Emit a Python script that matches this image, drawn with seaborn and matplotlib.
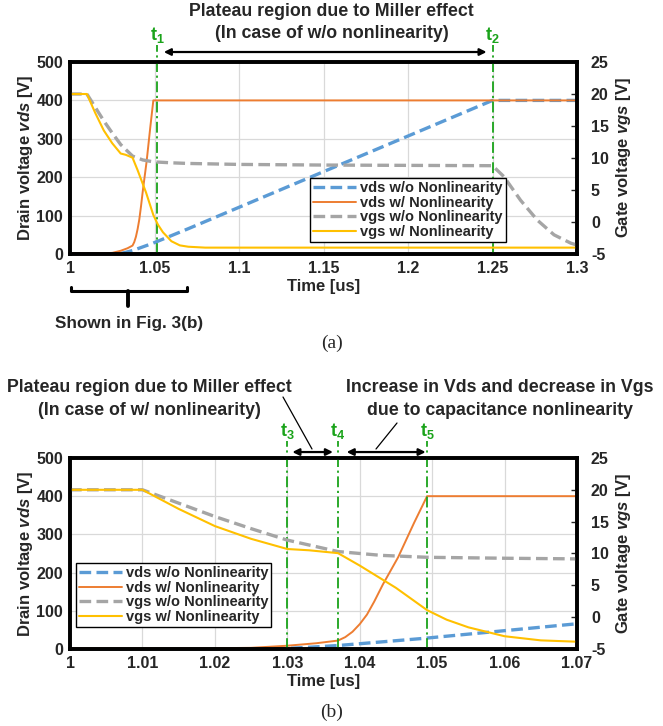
import matplotlib
matplotlib.use("Agg")
import matplotlib.pyplot as plt
import matplotlib.transforms as mtransforms
from matplotlib.lines import Line2D
import seaborn as sns

# values (time in us, voltages in V)
t_vds_wo = [1.0, 1.026, 1.03, 1.033, 1.037, 1.049, 1.07, 1.25, 1.3]
vds_wo = [0, 0, 1.5, 4.5, 9, 28, 66, 400, 400]

t_vds_w = [1.0, 1.02, 1.025, 1.03, 1.034, 1.037, 1.038, 1.039, 1.040, 1.041,
           1.042, 1.0432, 1.0453, 1.0475, 1.0493, 1.3]
vds_w = [2, 2, 3, 8.5, 15, 22, 31, 45, 65, 90, 124, 169, 240, 330, 400, 400]

t_vgs_wo = [1.0, 1.01, 1.015, 1.02, 1.025, 1.03, 1.037, 1.043, 1.0493, 1.06,
            1.07, 1.1, 1.15, 1.25, 1.2567, 1.2666, 1.2765, 1.2864, 1.2963, 1.3]
vgs_wo = [20, 20, 17.9, 15.8, 13.9, 12.1, 10.3, 9.7, 9.4, 9.25,
          9.15, 9.0, 8.9, 8.8, 7.1, 3.4, 0.3, -2.0, -3.3, -3.6]

t_vgs_w = [1.0, 1.01, 1.015, 1.02, 1.025, 1.03, 1.033, 1.037, 1.04, 1.045,
           1.0493, 1.052, 1.055, 1.06, 1.065, 1.07, 1.08, 1.3]
vgs_w = [20, 20, 17.0, 14.3, 12.3, 10.7, 10.5, 10.05, 8.1, 4.6,
         1.1, -0.4, -1.6, -3.0, -3.65, -3.86, -4.0, -4.0]

series_labels = ["vds w/o Nonlinearity", "vds w/ Nonlinearity",
                 "vgs w/o Nonlinearity", "vgs w/ Nonlinearity"]

ticks_a = [1.0, 1.05, 1.1, 1.15, 1.2, 1.25, 1.3]
ticklabels_a = ["1", "1.05", "1.1", "1.15", "1.2", "1.25", "1.3"]
ticks_b = [1.0, 1.01, 1.02, 1.03, 1.04, 1.05, 1.06, 1.07]
ticklabels_b = ["1", "1.01", "1.02", "1.03", "1.04", "1.05", "1.06", "1.07"]

t_marks_a = [1.0515, 1.25]
t_names_a = ["1", "2"]
t_marks_b = [1.030, 1.037, 1.0493]
t_names_b = ["3", "4", "5"]

BLUE, ORANGE, GRAY, YELLOW = "#5B9BD5", "#ED7D31", "#A5A5A5", "#FFC000"
GREEN = "#1AA31A"
TICKFONT = ['Liberation Sans', 'DejaVu Sans']

sns.set_style("white")
plt.rcParams['font.family'] = ['Liberation Sans Narrow', 'Liberation Sans', 'DejaVu Sans']
plt.rcParams['font.weight'] = 'bold'
plt.rcParams['mathtext.fontset'] = 'custom'
plt.rcParams['mathtext.it'] = 'Liberation Sans:italic:bold'
plt.rcParams['mathtext.rm'] = 'Liberation Sans:bold'
plt.rcParams['mathtext.bf'] = 'Liberation Sans:bold'

fig = plt.figure(figsize=(6.63, 7.26), dpi=100)


def draw_panel(ax, xlim, ticks, ticklabels, t_marks, t_names, legend_anchor):
    ax.set_xlim(*xlim)
    ax.set_ylim(0, 500)
    ax2 = ax.twinx()
    ax2.set_ylim(-5, 25)

    sns.lineplot(x=t_vds_wo, y=vds_wo, ax=ax, color=BLUE, lw=2.4,
                 ls=(0, (3.5, 1.6)), sort=False)
    sns.lineplot(x=t_vds_w, y=vds_w, ax=ax, color=ORANGE, lw=1.4, sort=False)
    sns.lineplot(x=t_vgs_wo, y=vgs_wo, ax=ax2, color=GRAY, lw=2.4,
                 ls=(0, (3.5, 1.6)), sort=False)
    sns.lineplot(x=t_vgs_w, y=vgs_w, ax=ax2, color=YELLOW, lw=1.5, sort=False)

    ax.set_xticks(ticks)
    ax.set_xticklabels(ticklabels, fontsize=11.5, fontweight='bold', family=TICKFONT)
    ax.set_yticks([0, 100, 200, 300, 400, 500])
    ax.set_yticklabels(["0", "100", "200", "300", "400", "500"], fontsize=11.5,
                       fontweight='bold', family=TICKFONT)
    ax2.set_yticks([-5, 0, 5, 10, 15, 20, 25])
    ax2.set_yticklabels(["-5", "0", "5", "10", "15", "20", "25"], fontsize=11.5,
                        fontweight='bold', family=TICKFONT)
    ax.tick_params(axis='both', length=0, pad=5)
    ax2.tick_params(axis='y', direction='in', length=4, width=1, pad=10)
    ax.grid(True, color='#D9D9D9', lw=0.9)
    ax.set_axisbelow(True)
    for a in (ax, ax2):
        for s in a.spines.values():
            s.set_linewidth(2.6)
            s.set_color('black')
    ax.set_xlabel("Time [us]", fontsize=12, fontweight='bold', labelpad=2)
    ax.set_ylabel("Drain voltage $vds$ [V]", fontsize=12, fontweight='bold', labelpad=1)
    ax2.set_ylabel("Gate voltage $vgs$ [V]", fontsize=12, fontweight='bold', labelpad=4)

    trans = mtransforms.blended_transform_factory(ax.transData, ax.transAxes)
    for tm, nm in zip(t_marks, t_names):
        ax.plot([tm, tm], [0, 1.09], transform=trans, color=GREEN, lw=1.3,
                ls=(0, (6, 2, 1.2, 2)), clip_on=False, zorder=5)
        ax.text(tm, 1.14, r"$\mathrm{t}_{\mathrm{%s}}$" % nm, transform=trans,
                color=GREEN, fontsize=13, ha='center', va='center')

    handles = [
        Line2D([], [], color=BLUE, lw=2.4, ls=(0, (3.5, 1.6))),
        Line2D([], [], color=ORANGE, lw=1.4),
        Line2D([], [], color=GRAY, lw=2.4, ls=(0, (3.5, 1.6))),
        Line2D([], [], color=YELLOW, lw=1.5),
    ]
    leg = ax2.legend(handles, series_labels, loc='lower left', bbox_to_anchor=legend_anchor,
                     fontsize=10.5, frameon=True, fancybox=False, framealpha=1,
                     edgecolor='black', borderpad=0.2, labelspacing=0.05,
                     handlelength=3.0, handletextpad=0.25, borderaxespad=0)
    leg.get_frame().set_linewidth(1.0)
    for txt in leg.get_texts():
        txt.set_fontweight('bold')
    return ax2, trans


# panel (a)
ax_a = fig.add_axes([0.1056, 0.6501, 0.7647, 0.2645])
ax2_a, trans_a = draw_panel(ax_a, (1.0, 1.3), ticks_a, ticklabels_a,
                            t_marks_a, t_names_a, (0.473, 0.0625))
ax_a.annotate("", xy=(1.0555, 1.052), xytext=(1.2465, 1.052),
              xycoords=trans_a, textcoords=trans_a, annotation_clip=False,
              arrowprops=dict(arrowstyle='<|-|>', color='black', lw=1.6,
                              mutation_scale=10, shrinkA=0, shrinkB=0))
fig.text(0.5, 0.9835, "Plateau region due to Miller effect", ha='center', va='center',
         fontsize=12.8, fontweight='bold')
fig.text(0.5, 0.9545, "(In case of w/o nonlinearity)", ha='center', va='center',
         fontsize=12.8, fontweight='bold')
# bracket below the x axis
ax_a.plot([1.0005, 1.0005, 1.0695, 1.0695], [-0.172, -0.193, -0.193, -0.172],
          transform=trans_a, color='black', lw=2.2, clip_on=False,
          solid_joinstyle='round', solid_capstyle='round')
ax_a.plot([1.0345, 1.0345], [-0.193, -0.27], transform=trans_a, color='black',
          lw=2.8, clip_on=False)
ax_a.text(1.035, -0.36, "Shown in Fig. 3(b)", transform=trans_a, ha='center',
          va='center', fontsize=12.3, fontweight='bold')
fig.text(0.5, 1 - 343 / 726, "(a)", ha='center', va='center', fontsize=14,
         family=['Liberation Serif', 'DejaVu Serif'], fontweight='normal')

# panel (b)
ax_b = fig.add_axes([0.1056, 0.1061, 0.7647, 0.2631])
ax2_b, trans_b = draw_panel(ax_b, (1.0, 1.07), ticks_b, ticklabels_b,
                            t_marks_b, t_names_b, (0.011, 0.115))
for x0, x1 in [(1.0307, 1.0363), (1.0382, 1.0491)]:
    ax_b.annotate("", xy=(x0, 1.031), xytext=(x1, 1.031),
                  xycoords=trans_b, textcoords=trans_b, annotation_clip=False,
                  arrowprops=dict(arrowstyle='<|-|>', color='black', lw=1.6,
                                  mutation_scale=10, shrinkA=0, shrinkB=0))
fig.text(0.226, 1 - 388 / 726, "Plateau region due to Miller effect", ha='center',
         va='center', fontsize=12.8, fontweight='bold')
fig.text(0.226, 1 - 410 / 726, "(In case of w/ nonlinearity)", ha='center',
         va='center', fontsize=12.8, fontweight='bold')
fig.text(0.754, 1 - 388 / 726, "Increase in Vds and decrease in Vgs", ha='center',
         va='center', fontsize=12.8, fontweight='bold')
fig.text(0.754, 1 - 410 / 726, "due to capacitance nonlinearity", ha='center',
         va='center', fontsize=12.8, fontweight='bold')
# leader lines from the texts to the arrows
fig.add_artist(Line2D([283 / 663, 312 / 663], [1 - 397 / 726, 1 - 449 / 726],
                      color='black', lw=0.9))
fig.add_artist(Line2D([397 / 663, 376 / 663], [1 - 423 / 726, 1 - 449 / 726],
                      color='black', lw=0.9))
fig.text(0.5, 1 - 712 / 726, "(b)", ha='center', va='center', fontsize=14,
         family=['Liberation Serif', 'DejaVu Serif'], fontweight='normal')

fig.savefig("out.png", dpi=100)
